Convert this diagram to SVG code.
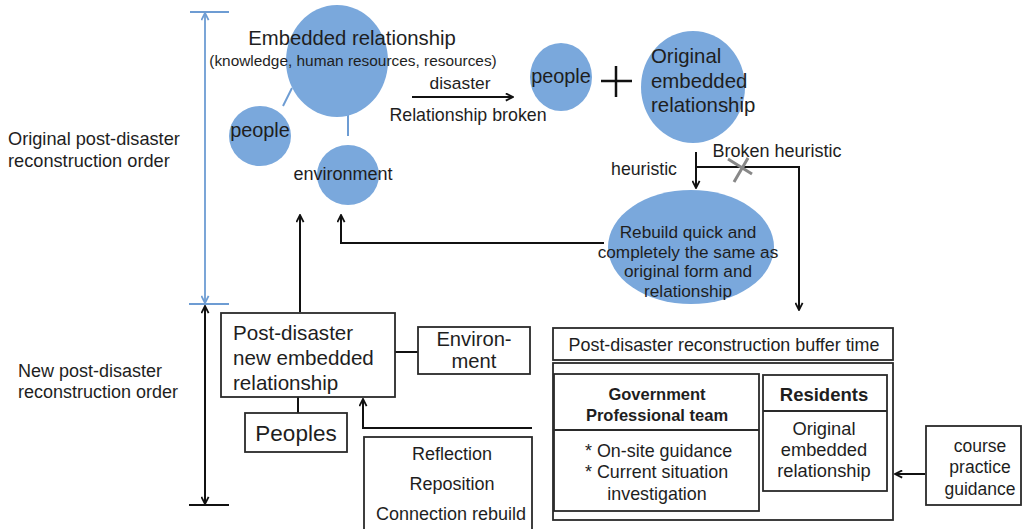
<svg xmlns="http://www.w3.org/2000/svg" width="1022" height="529" viewBox="0 0 1022 529">
  <style>
    text { font-family: "Liberation Sans", Arial, sans-serif; fill: #1e1e1e; }
    .bubble { fill: #7aa8dc; }
    .link { stroke: #6d9cd3; stroke-width: 2; fill: none; }
    .box { fill: #fff; stroke: #2a2a2a; stroke-width: 1.8; }
    .wire { stroke: #111; stroke-width: 2; fill: none; }
    .dim { stroke: #6d9cd3; stroke-width: 1.8; fill: none; }
    .c { text-anchor: middle; }
    .b { font-weight: bold; }
  </style>
  <defs>
    <marker id="ah" viewBox="0 0 10 10" refX="9" refY="5" markerWidth="9" markerHeight="9" markerUnits="userSpaceOnUse" orient="auto-start-reverse">
      <path d="M1,1 L9,5 L1,9" fill="none" stroke="#111" stroke-width="2"/>
    </marker>
    <marker id="ahBlue" viewBox="0 0 10 10" refX="9" refY="5" markerWidth="9" markerHeight="9" markerUnits="userSpaceOnUse" orient="auto-start-reverse">
      <path d="M1,1 L9,5 L1,9" fill="none" stroke="#6d9cd3" stroke-width="2"/>
    </marker>
  </defs>

  <!-- side scale: original order (blue) and new order (black) -->
  <g id="scale-original">
    <line class="dim" x1="190" y1="12" x2="229" y2="12"/>
    <line class="dim" x1="189" y1="304" x2="229" y2="304"/>
    <line class="dim" x1="205" y1="13" x2="205" y2="303" marker-start="url(#ahBlue)" marker-end="url(#ahBlue)"/>
    <text x="8" y="145" font-size="18.2">Original post-disaster<tspan x="8" y="167">reconstruction order</tspan></text>
  </g>
  <g id="scale-new">
    <line class="wire" x1="189" y1="505" x2="229" y2="505"/>
    <line class="wire" x1="205" y1="306" x2="205" y2="504" marker-start="url(#ah)" marker-end="url(#ah)"/>
    <text x="18" y="377" font-size="18">New post-disaster<tspan x="18" y="398">reconstruction order</tspan></text>
  </g>

  <!-- connectors -->
  <g id="connectors">
    <line class="link" x1="292" y1="88" x2="283" y2="106"/>
    <line class="link" x1="348" y1="113" x2="348" y2="136"/>
    <line class="wire" x1="412" y1="97" x2="513" y2="97" marker-end="url(#ah)"/>
    <line class="wire" x1="696" y1="152" x2="696" y2="188" marker-end="url(#ah)"/>
    <polyline class="wire" points="696,167 799,167 799,310" marker-end="url(#ah)"/>
    <polyline class="wire" points="604,243 341,243 341,215" marker-end="url(#ah)"/>
    <line class="wire" x1="300" y1="312" x2="300" y2="215" marker-end="url(#ah)"/>
    <line class="wire" x1="395" y1="352" x2="418" y2="352"/>
    <line class="wire" x1="298" y1="397" x2="298" y2="413"/>
    <polyline class="wire" points="532,428 363,428 363,399" marker-end="url(#ah)"/>
    <line class="wire" x1="925" y1="474" x2="895" y2="474" marker-end="url(#ah)"/>
    <!-- broken mark -->
    <path d="M728,159 L752,174 M748,158 L734,182" stroke="#888" stroke-width="3" fill="none"/>
    <!-- plus sign -->
    <path d="M601,81 L632,81 M616,66 L616,97" stroke="#111" stroke-width="2.5" fill="none"/>
    <text x="460" y="89" font-size="17.4" class="c">disaster</text>
    <text x="468" y="121" font-size="17.8" class="c">Relationship broken</text>
    <text x="644" y="175" font-size="17.7" class="c">heuristic</text>
    <text x="777" y="157" font-size="18" class="c">Broken heuristic</text>
  </g>

  <!-- original embedded relationship cluster -->
  <g id="embedded">
    <ellipse class="bubble" cx="337" cy="61" rx="51" ry="56"/>
    <text x="352" y="45" font-size="20.3" class="c">Embedded relationship<tspan x="353" y="66" font-size="15.4">(knowledge, human resources, resources)</tspan></text>
  </g>
  <g id="people-left">
    <ellipse class="bubble" cx="260" cy="136" rx="31" ry="30"/>
    <text x="260" y="137" font-size="19.9" class="c">people</text>
  </g>
  <g id="environment-circle">
    <ellipse class="bubble" cx="348" cy="175" rx="31" ry="30"/>
    <text x="343" y="180" font-size="18" class="c">environment</text>
  </g>

  <!-- after the disaster -->
  <g id="people-right">
    <ellipse class="bubble" cx="561" cy="77" rx="31" ry="34"/>
    <text x="561" y="83" font-size="19.9" class="c">people</text>
  </g>
  <g id="original-embedded">
    <ellipse class="bubble" cx="693" cy="87" rx="52" ry="56"/>
    <text x="651" y="63" font-size="20.4">Original<tspan x="651" y="88">embedded</tspan><tspan x="651" y="112">relationship</tspan></text>
  </g>
  <g id="rebuild">
    <ellipse class="bubble" cx="691" cy="247" rx="83" ry="57"/>
    <text x="688" y="238" font-size="17.2" class="c">Rebuild quick and<tspan x="688" y="257.5">completely the same as</tspan><tspan x="688" y="277">original form and</tspan><tspan x="688" y="296.5">relationship</tspan></text>
  </g>

  <!-- new order -->
  <g id="post-disaster">
    <rect class="box" x="221" y="313" width="174" height="84"/>
    <text x="233" y="340" font-size="20.6">Post-disaster<tspan x="233" y="365">new embedded</tspan><tspan x="233" y="390">relationship</tspan></text>
  </g>
  <g id="environment-box">
    <rect class="box" x="418" y="327" width="112" height="47"/>
    <text x="474" y="346" font-size="20.2" class="c">Environ-<tspan x="474" y="368">ment</tspan></text>
  </g>
  <g id="peoples">
    <rect class="box" x="245" y="413" width="102" height="39"/>
    <text x="296" y="441" font-size="22.5" class="c">Peoples</text>
  </g>
  <g id="reflection">
    <rect class="box" x="364" y="437" width="168" height="100"/>
    <text x="452" y="460" font-size="18" class="c">Reflection<tspan x="452" y="490">Reposition</tspan><tspan x="451" y="520">Connection rebuild</tspan></text>
  </g>

  <!-- buffer time -->
  <g id="buffer-title">
    <rect class="box" x="553" y="328" width="340" height="32"/>
    <text x="724" y="351" font-size="17.9" class="c">Post-disaster reconstruction buffer time</text>
  </g>
  <g id="buffer">
    <rect class="box" x="553" y="363" width="340" height="157"/>
  </g>
  <g id="government">
    <rect class="box" x="554" y="374" width="205" height="137"/>
    <line class="box" x1="554" y1="430" x2="759" y2="430"/>
    <text x="657" y="400" font-size="16.5" class="c b">Government<tspan x="657" y="421">Professional team</tspan></text>
    <text x="585" y="457" font-size="17.9">* On-site guidance<tspan x="585" y="478">* Current situation</tspan><tspan x="657" y="500" text-anchor="middle">investigation</tspan></text>
  </g>
  <g id="residents">
    <rect class="box" x="763" y="375" width="124" height="116"/>
    <line class="box" x1="763" y1="411" x2="887" y2="411"/>
    <text x="824" y="401" font-size="18.5" class="c b">Residents</text>
    <text x="824" y="435" font-size="18.3" class="c">Original<tspan x="824" y="456">embedded</tspan><tspan x="824" y="477">relationship</tspan></text>
  </g>
  <g id="course">
    <rect class="box" x="926" y="426" width="95" height="79"/>
    <text x="980" y="452" font-size="17.5" class="c">course<tspan x="980" y="473">practice</tspan><tspan x="980" y="495">guidance</tspan></text>
  </g>
</svg>
